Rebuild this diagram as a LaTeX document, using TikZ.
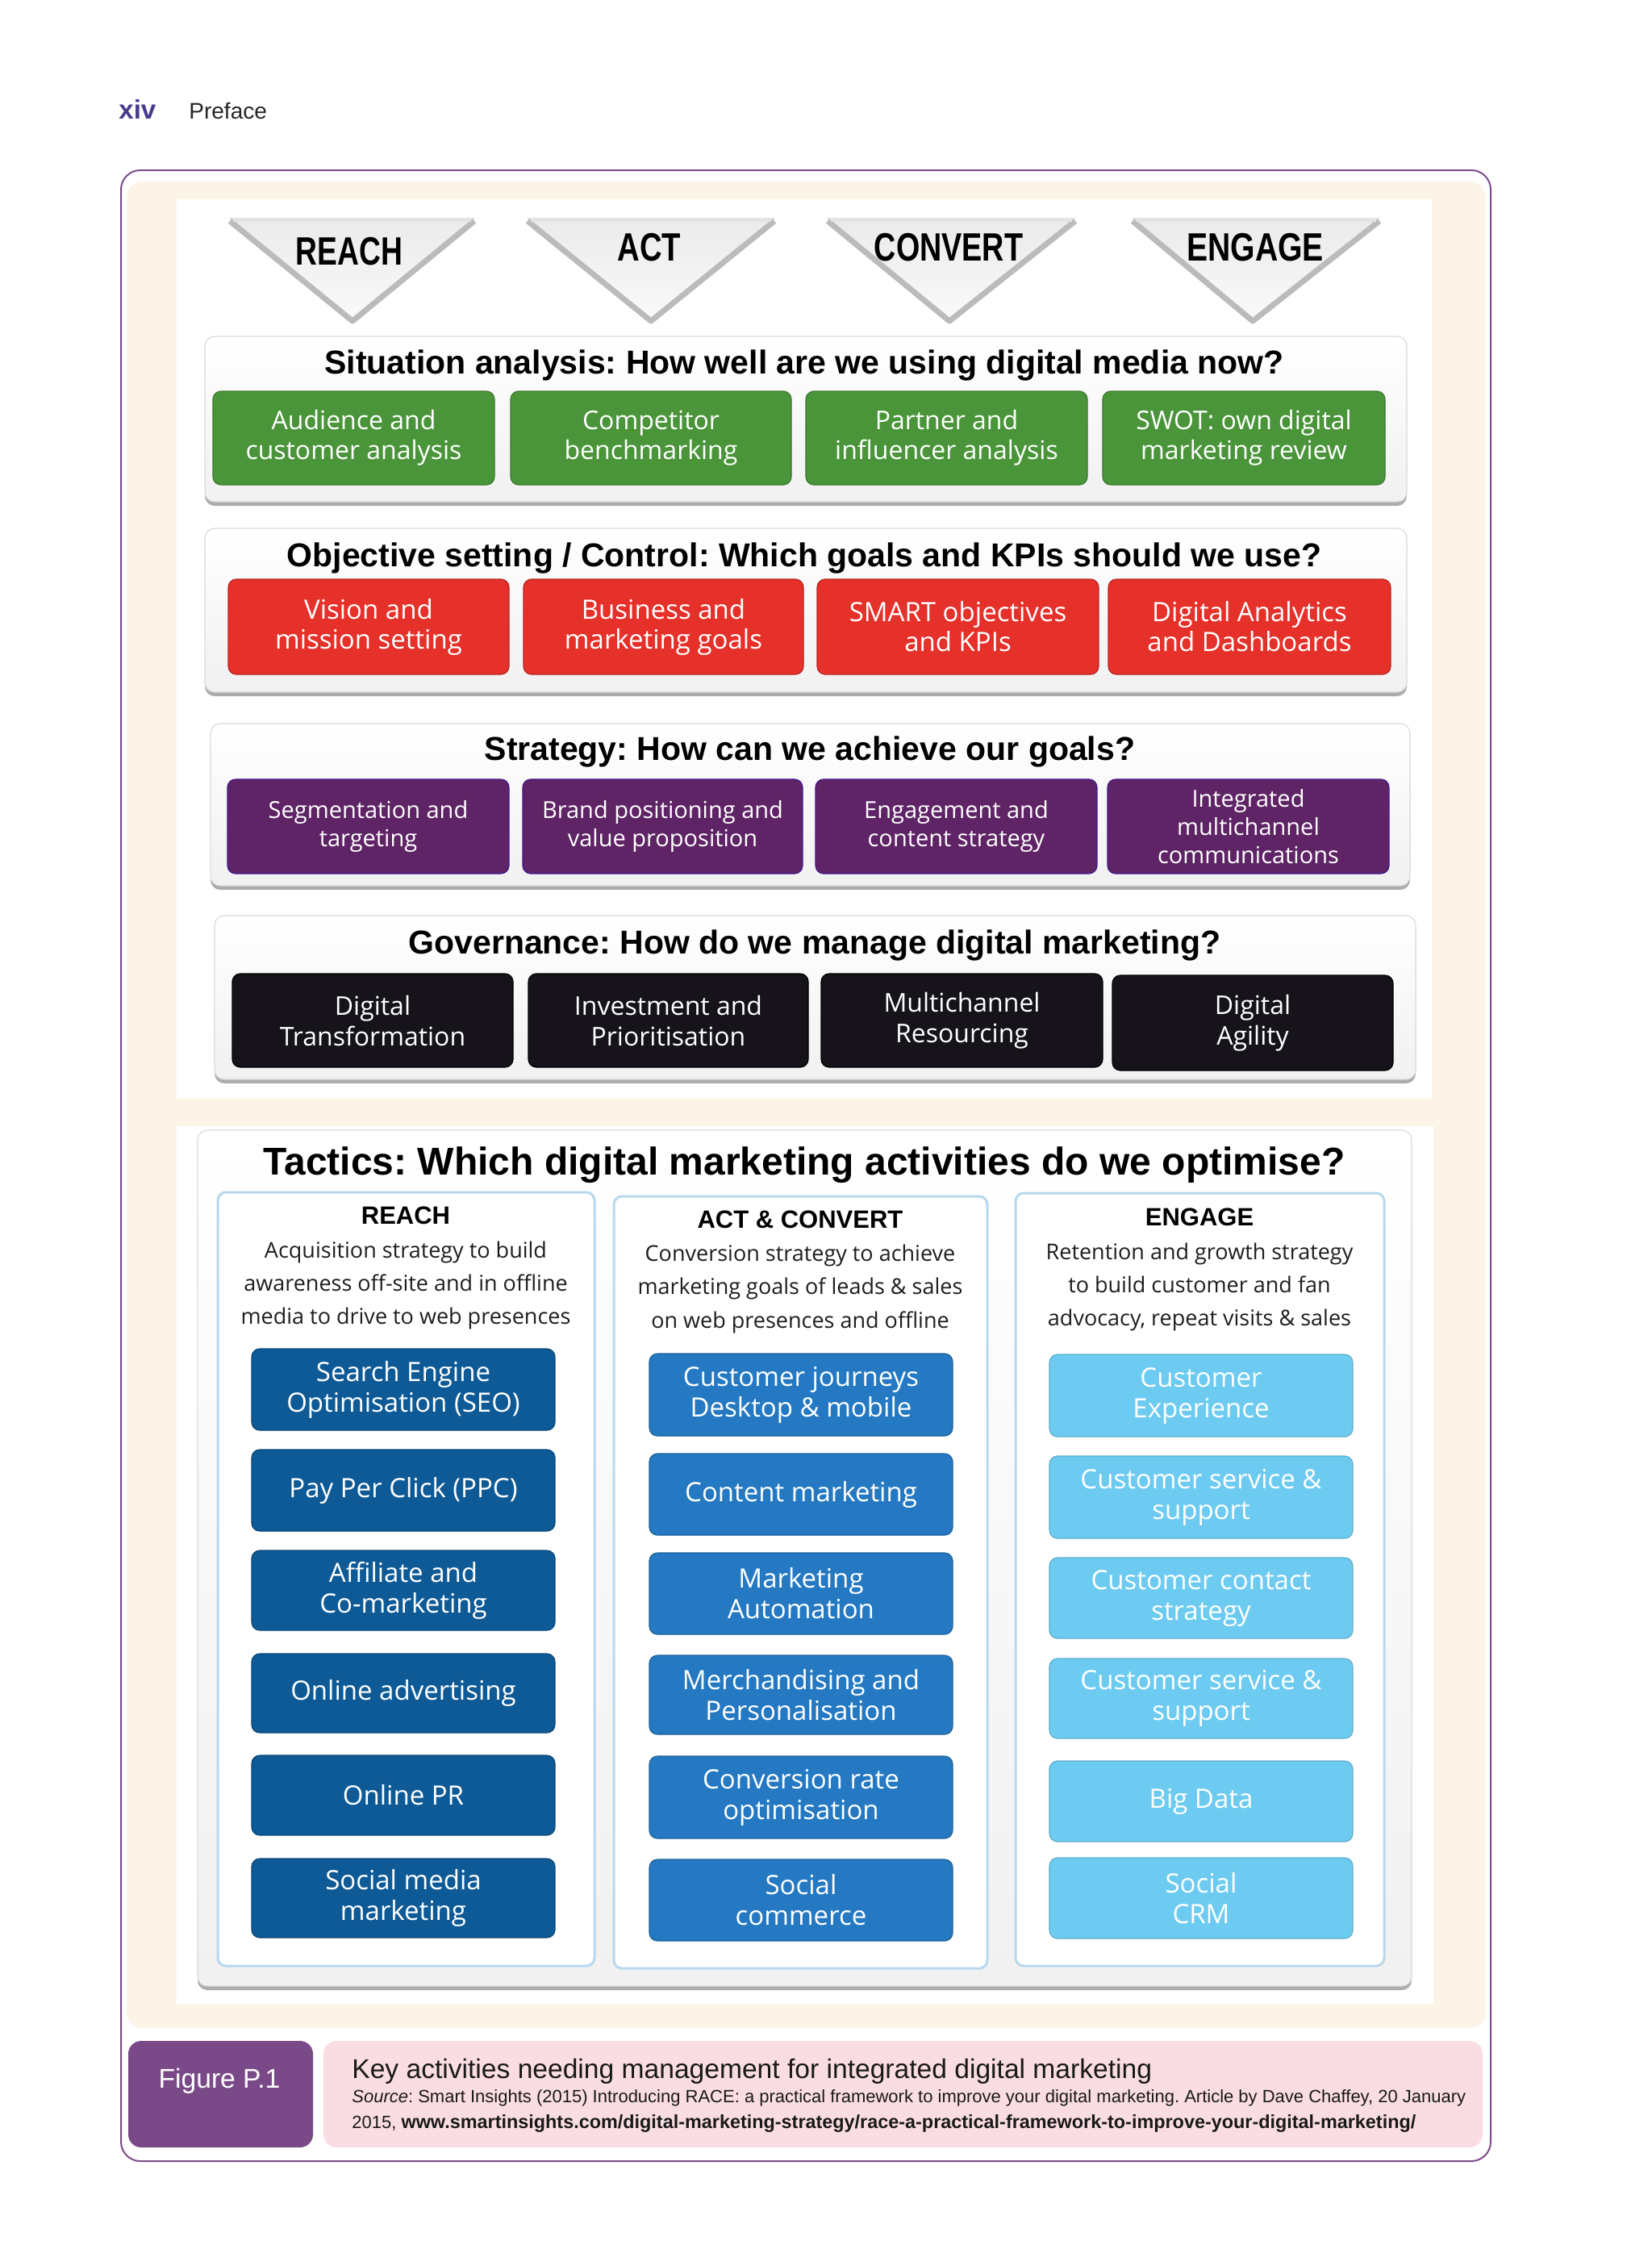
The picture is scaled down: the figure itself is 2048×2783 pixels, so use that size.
\documentclass[tikz,border=0pt]{standalone}
\usepackage{fontspec}
\usepackage{graphicx}
\setmainfont{Liberation Sans}
\newfontfamily\bxf{Open Sans}
\usetikzlibrary{shadows}
\frenchspacing

\definecolor{cream}{HTML}{FDF4E8}
\definecolor{framepurple}{HTML}{7B4C8B}
\definecolor{capurple}{HTML}{7A4A88}
\definecolor{capink}{HTML}{FADDE2}
\definecolor{sgreen}{HTML}{4A953A}
\definecolor{sred}{HTML}{E6302A}
\definecolor{spurple}{HTML}{5E2465}
\definecolor{sblack}{HTML}{16131B}
\definecolor{tdark}{HTML}{0E5A96}
\definecolor{tmid}{HTML}{2479C2}
\definecolor{tlight}{HTML}{6DCBF1}
\definecolor{colborder}{HTML}{B8D8EE}
\definecolor{trigray}{HTML}{B9BBBD}
\definecolor{xivcol}{HTML}{4A3A8E}
\definecolor{desccol}{HTML}{1E1E1E}

\newcommand\fs[2]{\fontsize{#1}{#2}\selectfont}
\newcommand\bx[7]{\node[#6, minimum width={(#4-#2)*0.5pt}, minimum height={(#5-#3)*0.5pt}] (#1) at ({(#2+#4)/2},{(#3+#5)/2}) {#7};}

\tikzset{
  panel/.style={rounded corners=6pt, top color=white, bottom color=gray!11, draw=gray!28, line width=0.6pt,
    drop shadow={shadow xshift=0pt, shadow yshift=-2.5pt, fill=gray!65, opacity=1}},
  colbox/.style={rounded corners=5pt, fill=white, draw=colborder, line width=1.5pt},
  box/.style={rounded corners=5pt, inner sep=0pt, align=center, text=white, line width=0.6pt},
  gbox/.style={box, fill=sgreen, draw=sgreen!80!black, font=\bxf\fs{16}{18.5}},
  rbox/.style={box, fill=sred, draw=sred!80!black, font=\bxf\fs{16.5}{18.5}},
  pbox/.style={box, fill=spurple, draw=spurple!70!blue, font=\bxf\fs{14.5}{17.5}},
  kbox/.style={box, fill=sblack, draw=black, font=\bxf\fs{16}{19}},
  dbox/.style={box, fill=tdark, draw=tdark!80!black, font=\bxf\fs{16.5}{19}},
  mbox/.style={box, fill=tmid, draw=tmid!80!black, font=\bxf\fs{16.5}{19}},
  lbox/.style={box, fill=tlight, draw=tlight!85!black, font=\bxf\fs{16.5}{19}},
  ptitle/.style={anchor=base, inner sep=0pt, font=\bfseries\fs{20.5}{24}},
  tritext/.style={anchor=base, inner sep=0pt, font=\bfseries\fs{24.5}{28}},
  colhead/.style={anchor=base, inner sep=0pt, font=\bfseries\fs{15.5}{18}},
  desc/.style={anchor=base, inner sep=0pt, text=desccol, font=\bxf\fs{13.5}{16}},
}

\begin{document}
\begin{tikzpicture}[x=0.5pt, y=-0.5pt]
\useasboundingbox[fill=white] (0,0) rectangle (2048,2783);

% running head
\node[anchor=base west, inner sep=0pt, text=xivcol, font=\bfseries\fs{16.5}{19}] (xiv) at (147,148) {xiv};
\node[anchor=base west, inner sep=0pt, text=black!85, font=\fs{14}{17}] (pref) at (234,148) {Preface};

% frame, cream and white panels
\draw[framepurple, line width=1pt, rounded corners=12pt] (150,211) rectangle (1848,2679);
\fill[cream, rounded corners=10pt] (157,225) rectangle (1842,2514);
\fill[white] (219,247) rectangle (1775,1362);
\fill[white] (219,1396) rectangle (1777,2484);

% RACE triangles
\foreach \l/\r/\a in {285/588/437, 654/960/807, 1026/1333/1177, 1404/1710/1553}{
  \fill[top color=gray!16, bottom color=gray!4] (\l,270) -- (\r,270) -- (\a,398) -- cycle;
  \draw[trigray, line width=3.5pt, line join=round] (\l,274) -- (\a,398) -- (\r,274);
  \draw[gray!22, line width=2.5pt] (\l+4,272) -- (\r-4,272);
}
\node[tritext] (tR) at (433,328) {\scalebox{0.76}[1]{REACH}};
\node[tritext] (tA) at (805,323) {\scalebox{0.78}[1]{ACT}};
\node[tritext] (tC) at (1176,323) {\scalebox{0.77}[1]{CONVERT}};
\node[tritext] (tE) at (1556,323) {\scalebox{0.8}[1]{ENGAGE}};

% Situation analysis
\bx{sit}{254}{417}{1744}{622}{panel}{}
\node[ptitle] (sitT) at (997,463) {Situation analysis: How well are we using digital media now?};
\bx{g1}{264}{485}{613}{601}{gbox}{Audience and\\customer analysis}
\bx{g2}{633}{485}{981}{601}{gbox}{Competitor\\benchmarking}
\bx{g3}{999}{485}{1348}{601}{gbox}{Partner and\\influencer analysis}
\bx{g4}{1367}{485}{1717}{601}{gbox}{SWOT: own digital\\marketing review}

% Objective setting
\bx{obj}{254}{655}{1744}{858}{panel}{}
\node[ptitle] (objT) at (997,702) {Objective setting / Control: Which goals and KPIs should we use?};
\bx{o1}{283}{718}{631}{836}{rbox}{Vision and\\mission setting}
\bx{o2}{649}{718}{996}{836}{rbox}{Business and\\marketing goals}
\bx{o3}{1013}{718}{1362}{836}{rbox}{SMART objectives\\and KPIs}
\bx{o4}{1374}{718}{1724}{836}{rbox}{Digital Analytics\\and Dashboards}

% Strategy
\bx{str}{261}{897}{1748}{1098}{panel}{}
\node[ptitle] (strT) at (1004,942) {Strategy: How can we achieve our goals?};
\bx{s1}{282}{966}{631}{1083}{pbox}{Segmentation and\\targeting}
\bx{s2}{648}{966}{995}{1083}{pbox}{Brand positioning and\\value proposition}
\bx{s3}{1011}{966}{1360}{1083}{pbox}{Engagement and\\content strategy}
\bx{s4}{1373}{966}{1722}{1083}{pbox}{Integrated\\multichannel\\communications}

% Governance
\bx{gov}{266}{1135}{1755}{1338}{panel}{}
\node[ptitle] (govT) at (1010,1182) {Governance: How do we manage digital marketing?};
\bx{k1}{288}{1207}{636}{1323}{kbox}{Digital\\Transformation}
\bx{k2}{655}{1207}{1002}{1323}{kbox}{Investment and\\Prioritisation}
\bx{k3}{1018}{1207}{1367}{1323}{kbox}{Multichannel\\Resourcing}
\bx{k4}{1379}{1209}{1727}{1327}{kbox}{Digital\\Agility}

% Tactics
\bx{tac}{245}{1401}{1750}{2462}{panel}{}
\node[ptitle, font=\bfseries\fs{24}{28}] (tacT) at (997,1456) {Tactics: Which digital marketing activities do we optimise?};

\bx{cR}{270}{1478}{737}{2437}{colbox}{}
\bx{cA}{761}{1483}{1224}{2440}{colbox}{}
\bx{cE}{1259}{1479}{1716}{2437}{colbox}{}

\node[colhead] (hR) at (503,1517) {REACH};
\node[colhead] (hA) at (992,1522) {ACT \& CONVERT};
\node[colhead] (hE) at (1487,1519) {ENGAGE};

\node[desc] (dR1) at (503,1559) {Acquisition strategy to build};
\node[desc] (dR2) at (503,1600) {awareness off-site and in offline};
\node[desc] (dR3) at (503,1641) {media to drive to web presences};
\node[desc] (dA1) at (992,1563) {Conversion strategy to achieve};
\node[desc] (dA2) at (992,1604) {marketing goals of leads \& sales};
\node[desc] (dA3) at (992,1646) {on web presences and offline};
\node[desc] (dE1) at (1487,1561) {Retention and growth strategy};
\node[desc] (dE2) at (1487,1602) {to build customer and fan};
\node[desc] (dE3) at (1487,1643) {advocacy, repeat visits \& sales};

\bx{r1}{312}{1672}{688}{1773}{dbox}{Search Engine\\Optimisation (SEO)}
\bx{r2}{312}{1797}{688}{1898}{dbox}{Pay Per Click (PPC)}
\bx{r3}{312}{1922}{688}{2021}{dbox}{Affiliate and\\Co-marketing}
\bx{r4}{312}{2050}{688}{2148}{dbox}{Online advertising}
\bx{r5}{312}{2176}{688}{2275}{dbox}{Online PR}
\bx{r6}{312}{2304}{688}{2402}{dbox}{Social media\\marketing}

\bx{a1}{805}{1678}{1181}{1780}{mbox}{Customer journeys\\Desktop \& mobile}
\bx{a2}{805}{1802}{1181}{1903}{mbox}{Content marketing}
\bx{a3}{805}{1925}{1181}{2026}{mbox}{Marketing\\Automation}
\bx{a4}{805}{2052}{1181}{2150}{mbox}{Merchandising and\\Personalisation}
\bx{a5}{805}{2177}{1181}{2279}{mbox}{Conversion rate\\optimisation}
\bx{a6}{805}{2305}{1181}{2406}{mbox}{Social\\commerce}

\bx{e1}{1301}{1679}{1677}{1781}{lbox}{Customer\\Experience}
\bx{e2}{1301}{1805}{1677}{1907}{lbox}{Customer service \&\\support}
\bx{e3}{1301}{1931}{1677}{2031}{lbox}{Customer contact\\strategy}
\bx{e4}{1301}{2056}{1677}{2155}{lbox}{Customer service \&\\support}
\bx{e5}{1301}{2183}{1677}{2283}{lbox}{Big Data}
\bx{e6}{1301}{2303}{1677}{2403}{lbox}{Social\\CRM}

% caption
\bx{figbox}{159}{2530}{388}{2662}{rounded corners=8pt, fill=capurple}{}
\bx{capbox}{401}{2530}{1838}{2662}{rounded corners=8pt, fill=capink}{}
\node[anchor=base, inner sep=0pt, text=white, font=\fs{16.8}{20}] (figT) at (272,2588) {Figure P.1};
\node[anchor=base west, inner sep=0pt, text=black!90, font=\fs{16.8}{20}] (cap1) at (436,2576) {Key activities needing management for integrated digital marketing};
\node[anchor=base west, inner sep=0pt, text=black!90, font=\fs{11}{13}] (cap2) at (436,2606) {\textit{Source}: Smart Insights (2015) Introducing RACE: a practical framework to improve your digital marketing. Article by Dave Chaffey, 20 January};
\node[anchor=base west, inner sep=0pt, text=black!90, font=\fs{11}{13}] (cap3) at (436,2638) {2015, \textbf{\fs{11.7}{13}www.smartinsights.com/digital-marketing-strategy/race-a-practical-framework-to-improve-your-digital-marketing/}};
\end{tikzpicture}
\end{document}
